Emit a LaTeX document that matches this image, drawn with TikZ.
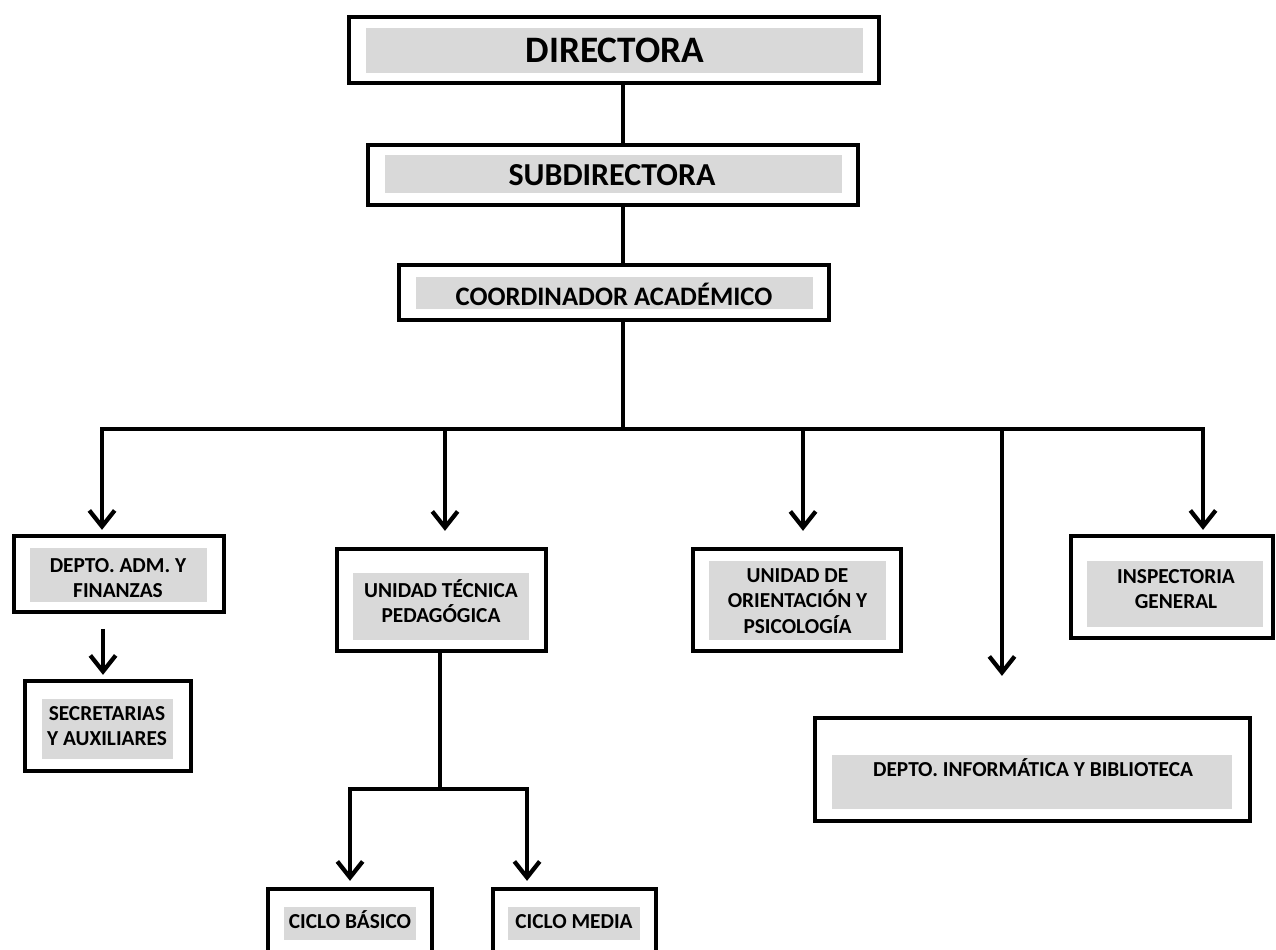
\documentclass[tikz,border=0pt]{standalone}
\usepackage{fontspec}
\setmainfont{Carlito}
\usetikzlibrary{arrows.meta,fit,calc}
\definecolor{boxgray}{HTML}{D9D9D9}
\begin{document}
\begin{tikzpicture}[x=0.75pt,y=-0.75pt,
  box/.style={draw=black, line width=3.2pt, fill=white, inner sep=0pt, line join=miter},
  shade/.style={fill=boxgray, draw=none, inner sep=0pt},
  lbl/.style={font=\bfseries\fontsize{16}{19}\selectfont, align=center, inner sep=0pt},
  conn/.style={line width=3.2pt, line join=miter},
  arr/.style={line width=3.2pt, line join=miter, -{Straight Barb[length=12pt,width=19pt]}}
]
\clip (0,0) rectangle (1276,949);
\fill[white] (0,0) rectangle (1276,949);

% boxes
\node[box, fit={(349,17) (879,83)}] (dir) {};
\node[shade, fit={(366,28) (863,73)}] (dirg) {};
\node[font=\bfseries\fontsize{28}{32}\selectfont, inner sep=0pt] (dirt) at (615,50) {DIRECTORA};

\node[box, fit={(368,145) (858,205)}] (sub) {};
\node[shade, fit={(385,155) (842,193)}] (subg) {};
\node[font=\bfseries\fontsize{24}{28}\selectfont, inner sep=0pt] (subt) at (612,175) {SUBDIRECTORA};

\node[box, fit={(399,265) (829,320)}] (coord) {};
\node[shade, fit={(416,277) (813,309)}] (coordg) {};
\node[font=\bfseries\fontsize{20}{24}\selectfont, inner sep=0pt] (coordt) at (614,294) {COORDINADOR ACADÉMICO};

\node[box, fit={(14,536) (224,612)}] (depto) {};
\node[shade, fit={(30,548) (207,602)}] (deptog) {};
\node[lbl] (deptot) at (118,578) {DEPTO. ADM. Y\\FINANZAS};

\node[box, fit={(337,549) (546,651)}] (utp) {};
\node[shade, fit={(353,573) (529,640)}] (utpg) {};
\node[lbl] (utpt) at (441,601) {UNIDAD TÉCNICA\\PEDAGÓGICA};

\node[box, fit={(693,549) (901,651)}] (orient) {};
\node[shade, fit={(709,561) (886,640)}] (orientg) {};
\node[lbl] (orientt) at (797.5,601) {UNIDAD DE\\ORIENTACIÓN Y\\PSICOLOGÍA};

\node[box, fit={(1071,536) (1273,638)}] (insp) {};
\node[shade, fit={(1087,561) (1263,627)}] (inspg) {};
\node[lbl] (inspt) at (1176,589) {INSPECTORIA\\GENERAL};

\node[box, fit={(815,718) (1250,821)}] (info) {};
\node[shade, fit={(832,755) (1232,809)}] (infog) {};
\node[lbl, anchor=base] (infot) at (1033,776) {DEPTO. INFORMÁTICA Y BIBLIOTECA};

\node[box, fit={(25,681) (191,771)}] (secret) {};
\node[shade, fit={(42,699) (173,759)}] (secretg) {};
\node[lbl] (secrett) at (107,726) {SECRETARIAS\\Y AUXILIARES};

\node[box, fit={(268,889) (432,975)}] (basico) {};
\node[shade, fit={(284,907) (416,940)}] (basicog) {};
\node[lbl, anchor=base] (basicot) at (350,928) {CICLO BÁSICO};

\node[box, fit={(493,889) (656,975)}] (media) {};
\node[shade, fit={(508,907) (640,940)}] (mediag) {};
\node[lbl, anchor=base] (mediat) at (574,928) {CICLO MEDIA};

% trunk
\coordinate (trunk) at (623,0);
\coordinate (bus) at (623,429);
\draw[conn] (dir.south -| trunk) -- (sub.north -| trunk);
\draw[conn] (sub.south -| trunk) -- (coord.north -| trunk);
\draw[conn] (coord.south -| trunk) -- (bus);

% bus and drops
\draw[arr] (bus) -| ([xshift=-12.75pt,yshift=3pt]depto.north);
\draw[arr] (bus) -| ([xshift=2.6pt,yshift=12pt]utp.north);
\draw[arr] (bus) -| ([xshift=4.5pt,yshift=12pt]orient.north);
\draw[arr] (bus) -| ([xshift=-22.9pt,yshift=30pt]info.north);
\draw[arr] (bus) -| ([xshift=23.25pt,yshift=3pt]insp.north);

% depto -> secretarias
\draw[arr] ([xshift=-12pt,yshift=-11pt]depto.south) -- ([xshift=-3.75pt,yshift=3pt]secret.north);

% utp -> ciclos
\coordinate (fork) at ($(utp.south)+(-1.5,136)$);
\draw[conn] ([yshift=1.5pt]utp.south -| fork) -- (fork);
\draw[arr] (fork) -| ([yshift=4.5pt]basico.north);
\draw[arr] (fork) -| ([xshift=-35.6pt,yshift=4.5pt]media.north);
\end{tikzpicture}
\end{document}
